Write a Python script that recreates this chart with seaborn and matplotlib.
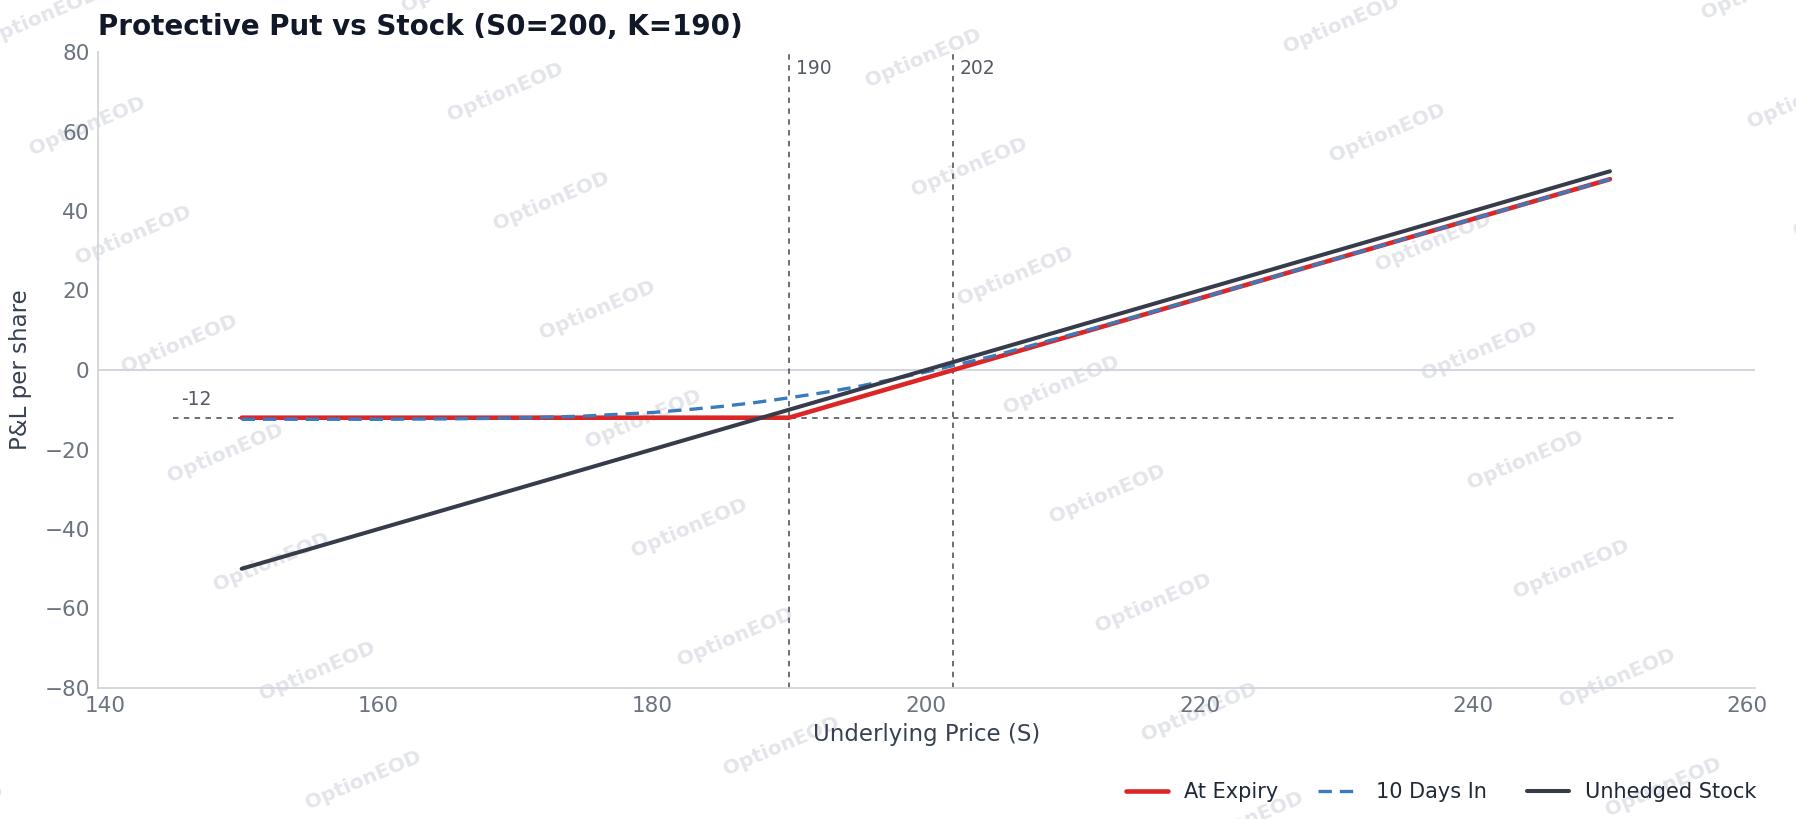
import matplotlib
matplotlib.use("Agg")
import matplotlib.pyplot as plt
import seaborn as sns

# values
expiry_price = [150, 190, 250]
expiry_pnl = [-12, -12, 48]

days10_price = [150, 155, 160, 165, 170, 175, 180, 182.5, 185, 187.5, 190, 192.5, 195,
                197.5, 200, 202.5, 205, 210, 215, 220, 225, 230, 235, 240, 245, 250]
days10_pnl = [-12.4, -12.4, -12.4, -12.3, -12.1, -11.6, -10.7, -10.0, -9.2, -8.2, -7.0, -5.7, -4.2,
              -2.4, -0.5, 1.5, 3.6, 8.3, 13.1, 18.0, 23.0, 28.0, 33.0, 38.0, 43.0, 48.0]

stock_price = [150, 250]
stock_pnl = [-50, 50]

strike = 190
breakeven = 202
max_loss = -12
x_ticks = [140, 160, 180, 200, 220, 240, 260]
y_ticks = [-80, -60, -40, -20, 0, 20, 40, 60, 80]

W, H = 1796, 819


def add_watermark(fig):
    for i in range(-4, 6):
        for j in range(-3, 9):
            px = 597 + i * 418 + j * 46
            py = 310 - i * 34 + j * 109
            if -60 < px < W + 60 and -40 < py < H + 40:
                fig.text(px / W, 1 - py / H, "OptionEOD", rotation=23, fontsize=14.5,
                         fontweight="bold", color="#e3e5ea", ha="center", va="center",
                         zorder=-5)


def plot_protective_put():
    sns.set_theme(style="white")
    plt.rcParams["font.family"] = ["DejaVu Sans"]
    fig = plt.figure(figsize=(W / 100, H / 100), dpi=100)
    ax = fig.add_axes([98 / W, 1 - 688 / H, (1755 - 98) / W, (688 - 52) / H])
    ax.set_facecolor("none")
    add_watermark(fig)

    ax.axhline(0, color="#cfd3da", lw=1.3, zorder=1)
    ax.hlines(max_loss, 145, 255, colors="#5f6368", lw=1.3, linestyles=(0, (3, 3)), zorder=1)
    for xv in (strike, breakeven):
        ax.axvline(xv, color="#5f6368", lw=1.3, linestyle=(0, (3, 3)), zorder=1)
        ax.text(xv + 0.5, 75.8, str(xv), fontsize=13.5, color="#555a63", ha="left", va="center")
    ax.text(145.6, -7.5, "-12", fontsize=13.5, color="#555a63", ha="left", va="center")

    sns.lineplot(x=expiry_price, y=expiry_pnl, ax=ax, color="#dc2626", lw=3.3,
                 label="At Expiry", zorder=3)
    sns.lineplot(x=days10_price, y=days10_pnl, ax=ax, color="#3a7bbd", lw=2.4,
                 linestyle=(0, (4, 2.4)), label="10 Days In", zorder=4)
    sns.lineplot(x=stock_price, y=stock_pnl, ax=ax, color="#363c4a", lw=2.9,
                 label="Unhedged Stock", zorder=5)

    ax.set_xlim(139.5, 260.6)
    ax.set_ylim(-80, 80)
    ax.set_xticks(x_ticks)
    ax.set_yticks(y_ticks)
    ax.tick_params(length=0, labelsize=15.5, labelcolor="#6b7280", pad=6)
    sns.despine(ax=ax)
    for side in ("left", "bottom"):
        ax.spines[side].set_color("#d1d5db")
        ax.spines[side].set_linewidth(1.3)

    ax.set_xlabel("Underlying Price (S)", fontsize=16.5, color="#374151", labelpad=5)
    ax.set_ylabel("P&L per share", fontsize=16.5, color="#374151", labelpad=9)
    ax.set_title("Protective Put vs Stock (S0=200, K=190)", loc="left", fontsize=20,
                 fontweight="bold", color="#111827", pad=12)

    handles, labels = ax.get_legend_handles_labels()
    if ax.get_legend():
        ax.get_legend().remove()
    fig.legend(handles, labels, loc="center right", bbox_to_anchor=(1775 / W, 1 - 792 / H),
               ncol=3, frameon=False, fontsize=15, handlelength=2.05, handletextpad=0.75,
               columnspacing=1.9, labelcolor="#1f2937")

    fig.savefig("out.png", dpi=100)


plot_protective_put()
